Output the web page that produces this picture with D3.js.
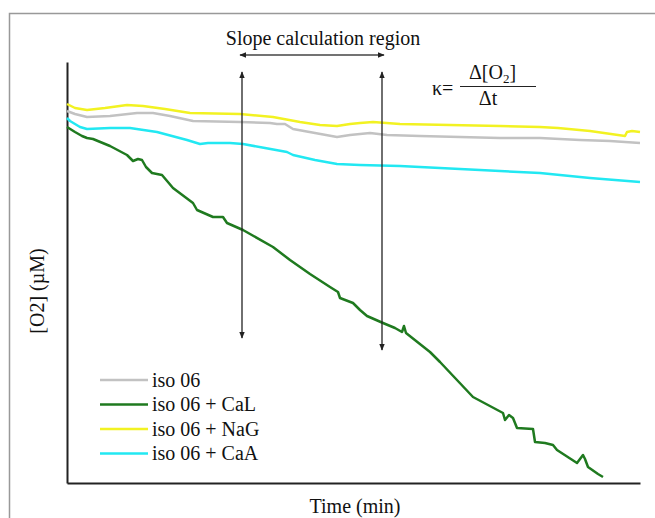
<!DOCTYPE html>
<html>
<head>
<meta charset="utf-8">
<script src="https://d3js.org/d3.v7.min.js"></script>
<style>
body { margin: 0; background: #fff; }
</style>
</head>
<body>
<script>
// oxygen traces, [time (min), O2 (uM)]
var grayData = [[0,186],[0.8,184.5],[2,183],[4.3,183.5],[7,185],[8.6,185],[10.3,183.5],[12.6,181],[17.3,180.5],[20.3,180],[21,179.5],[21.8,179.5],[22.6,177],[24.8,175],[27,173],[28.3,174],[29.3,174.5],[30.3,175],[32,174],[35.3,173.5],[39.3,173],[43.3,172.5],[47.3,172.5],[51.3,171.5],[54.3,171],[57.3,170]];
var greenData = [[0,178],[0.8,175.5],[1.5,173.5],[2,172.5],[2.6,172],[4.3,168.5],[6,164],[6.6,161],[7.1,162],[7.5,161.5],[7.9,158],[8.5,155],[9.5,154],[10.6,147.5],[12.6,140],[13,136.5],[14.6,133],[15.6,133],[16,130],[17.6,126.5],[20.6,118],[22.3,111.5],[24.3,104.5],[26.3,98],[27.1,95.5],[27.3,92.5],[28.6,90],[29.3,86.5],[30,83.5],[31.6,80],[32.8,77.5],[33.5,75.5],[33.7,78.5],[33.9,75],[36.3,65.5],[37.3,60.5],[40.6,43],[43.6,35],[43.8,31.5],[44.2,34],[44.6,32.5],[45,27.5],[46.6,27],[46.8,20.5],[47.8,20],[48.6,19],[49,16.5],[51,10],[51.6,14],[51.8,12],[52.1,8],[53.1,4.5],[53.6,3]];
var yellowData = [[0,189.5],[0.8,187.5],[2,186.5],[3.8,187.5],[6,189],[7.6,188.5],[9.8,187],[12.3,185],[17.3,184.5],[20.6,183],[23.3,180.5],[25.3,179],[27,178.5],[28.3,179.5],[29.3,180],[30.6,180.5],[33.3,179.5],[38.3,179],[43.3,178.5],[47.3,178],[49.1,177.5],[52.3,176],[55.8,173.5],[56,175.5],[56.5,176],[57.3,175.5]];
var cyanData = [[0,182.5],[0.3,181],[1.3,178],[2,177],[4.3,177.5],[6.3,177.5],[9,175.5],[12,171.5],[13.3,169.5],[14.1,170],[16.3,170],[17.6,169.5],[19.8,167.5],[22,165.5],[22.6,164],[24.8,161.5],[27,159.5],[29.3,159],[33.3,158.5],[37.3,157.5],[41.3,156.5],[47.3,155],[52.3,152.5],[57.3,150.5]];

var seriesNames = ["iso 06", "iso 06 + CaL", "iso 06 + NaG", "iso 06 + CaA"];
var seriesColors = ["#c2c2c2", "#1f7a1f", "#f2f222", "#22e8f2"];
var seriesData = [grayData, greenData, yellowData, cyanData];

// slope region limits (min)
var slopeStart = 17.5;
var slopeEnd = 31.5;

var w = 655, h = 518;

var svg = d3.select("body")
    .append("svg")
    .attr("width", w)
    .attr("height", h)
    .attr("font-family", "'Liberation Serif', 'Times New Roman', 'DejaVu Serif', serif")
    .attr("fill", "#111");

var defs = svg.append("defs");
defs.append("marker")
    .attr("id", "head")
    .attr("viewBox", "0 0 10 10")
    .attr("refX", 9).attr("refY", 5)
    .attr("markerWidth", 7).attr("markerHeight", 7)
    .attr("markerUnits", "userSpaceOnUse")
    .attr("orient", "auto-start-reverse")
    .append("path")
    .attr("d", "M0,1 L10,5 L0,9 Z")
    .attr("fill", "#222");

// outer frame
svg.append("path")
    .attr("d", "M9.5,518 L9.5,13.5 L655,13.5")
    .attr("fill", "none")
    .attr("stroke", "#999")
    .attr("stroke-width", 1.5);

var x = d3.scaleLinear().domain([0, 57.3]).range([67, 640]);
var y = d3.scaleLinear().domain([0, 210.5]).range([483, 62]);

// axes without ticks
svg.append("g")
    .attr("transform", "translate(0,483)")
    .call(d3.axisBottom(x).tickValues([]).tickSizeOuter(0))
    .select(".domain").attr("stroke", "#222").attr("stroke-width", 2);
svg.append("g")
    .attr("transform", "translate(67,0)")
    .call(d3.axisLeft(y).tickValues([]).tickSizeOuter(0))
    .select(".domain").attr("stroke", "#222").attr("stroke-width", 2);

var line = d3.line()
    .x(function(d) { return x(d[0]); })
    .y(function(d) { return y(d[1]); });

svg.selectAll(".trace")
    .data(seriesData)
    .enter()
    .append("path")
    .attr("class", "trace")
    .attr("d", line)
    .attr("fill", "none")
    .attr("stroke", function(d, i) { return seriesColors[i]; })
    .attr("stroke-width", 2.5)
    .attr("stroke-linejoin", "round");

// slope region annotation
svg.append("text")
    .attr("x", 323).attr("y", 45)
    .attr("text-anchor", "middle")
    .attr("font-size", 20)
    .text("Slope calculation region");

svg.append("line")
    .attr("x1", x(slopeStart) - 2).attr("x2", x(slopeEnd) + 2)
    .attr("y1", 55).attr("y2", 55)
    .attr("stroke", "#444").attr("stroke-width", 1.3)
    .attr("marker-start", "url(#head)")
    .attr("marker-end", "url(#head)");

svg.append("line")
    .attr("x1", x(slopeStart)).attr("x2", x(slopeStart))
    .attr("y1", 72).attr("y2", 338)
    .attr("stroke", "#222").attr("stroke-width", 1.3)
    .attr("marker-start", "url(#head)")
    .attr("marker-end", "url(#head)");

svg.append("line")
    .attr("x1", x(slopeEnd)).attr("x2", x(slopeEnd))
    .attr("y1", 72).attr("y2", 350)
    .attr("stroke", "#222").attr("stroke-width", 1.3)
    .attr("marker-start", "url(#head)")
    .attr("marker-end", "url(#head)");

// formula
svg.append("text")
    .attr("x", 432).attr("y", 95)
    .attr("font-size", 20)
    .text("κ=");
svg.append("line")
    .attr("x1", 460).attr("x2", 536)
    .attr("y1", 86.5).attr("y2", 86.5)
    .attr("stroke", "#222").attr("stroke-width", 1);
var num = svg.append("text")
    .attr("x", 469).attr("y", 79)
    .attr("font-size", 20);
num.append("tspan").text("Δ[O");
num.append("tspan").attr("font-size", 13).attr("dy", 4).text("2");
num.append("tspan").attr("dy", -4).text("]");
svg.append("text")
    .attr("x", 488).attr("y", 105)
    .attr("text-anchor", "middle")
    .attr("font-size", 20)
    .text("Δt");

// axis titles
svg.append("text")
    .attr("transform", "translate(44,291) rotate(-90)")
    .attr("text-anchor", "middle")
    .attr("font-size", 20)
    .text("[O2] (µM)");
svg.append("text")
    .attr("x", 355).attr("y", 513)
    .attr("text-anchor", "middle")
    .attr("font-size", 20)
    .text("Time (min)");

// legend
var legend = svg.selectAll(".legend")
    .data(seriesNames)
    .enter()
    .append("g")
    .attr("class", "legend")
    .attr("transform", function(d, i) { return "translate(100," + (380 + i * 24.5) + ")"; });
legend.append("line")
    .attr("x1", 0).attr("x2", 48)
    .attr("stroke", function(d, i) { return seriesColors[i]; })
    .attr("stroke-width", 2.5);
legend.append("text")
    .attr("x", 52).attr("y", 6.5)
    .attr("font-size", 20)
    .text(function(d) { return d; });
</script>
</body>
</html>
